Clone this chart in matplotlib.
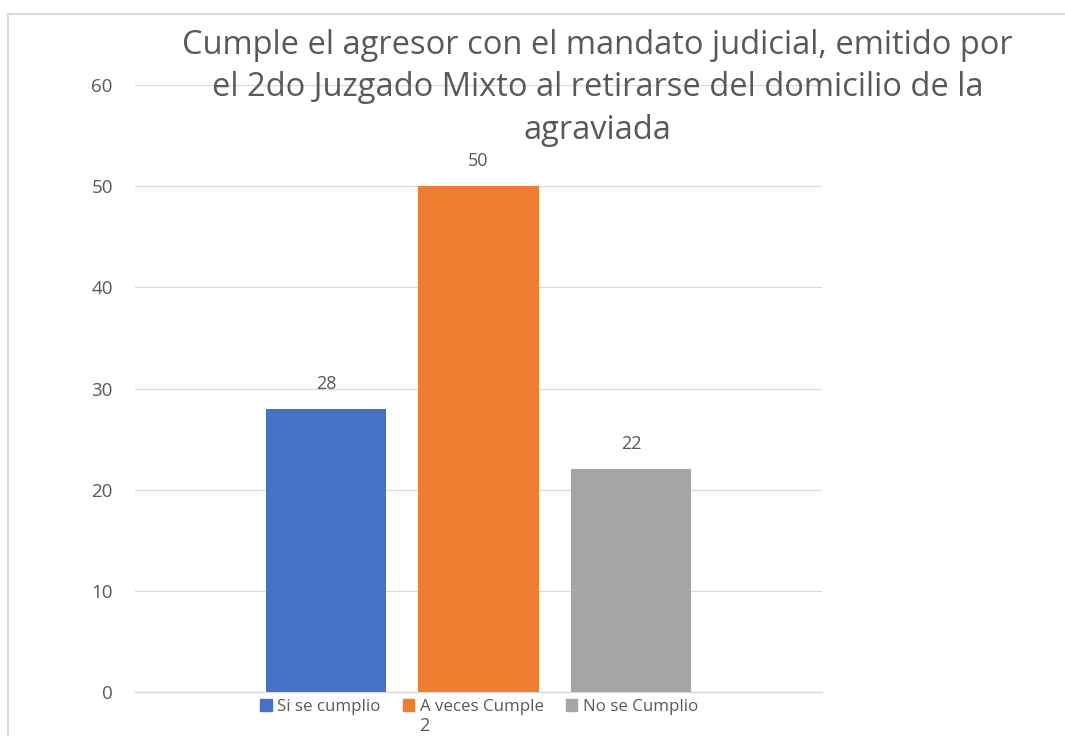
import matplotlib

matplotlib.use("Agg")
import matplotlib.pyplot as plt
from matplotlib.patches import Patch, Rectangle

plt.rcParams["font.family"] = ["Open Sans", "DejaVu Sans"]

title = ("Cumple el agresor con el mandato judicial, emitido por\n"
         "el 2do Juzgado Mixto al retirarse del domicilio de la\n"
         "agraviada")
category = "2"
series = ["Si se cumplio", "A veces Cumple", "No se Cumplio"]
values = [28, 50, 22]
colors = ["#4472C4", "#ED7D31", "#A5A5A5"]
yticks = [0, 10, 20, 30, 40, 50, 60]

text_col = "#595959"
grid_col = "#D9D9D9"

W, H = 1065, 736
fig = plt.figure(figsize=(W / 100, H / 100), dpi=100)
ax = fig.add_axes([135 / W, 1 - 692 / H, (822 - 135) / W, (692 - 85) / H])

offsets = [-0.222, 0.0, 0.222]
for off, v, c, name in zip(offsets, values, colors, series):
    ax.bar(off, v, width=0.175, color=c, label=name, zorder=3)
    ax.annotate(str(v), (off, v), xytext=(0, 18), textcoords="offset points",
                ha="center", va="center", fontsize=13, color=text_col)

ax.set_xlim(-0.5, 0.5)
ax.set_ylim(0, 60)
ax.set_yticks(yticks)
ax.set_xticks([(424 - 135) / 687 - 0.5])
ax.set_xticklabels([category])
ax.tick_params(axis="y", length=0, pad=16, labelsize=13.5, labelcolor=text_col)
ax.tick_params(axis="x", length=0, pad=18, labelsize=13, labelcolor=text_col)
ax.grid(axis="y", color=grid_col, lw=0.9, zorder=0)
for s in ["top", "right", "left"]:
    ax.spines[s].set_visible(False)
ax.spines["bottom"].set_color(grid_col)
ax.spines["bottom"].set_linewidth(1.0)

fig.text(597.5 / W, 1 - 29 / H, title, ha="center", va="top", fontsize=23.5,
         color=text_col, linespacing=1.38)

handles = [Patch(color=c) for c in colors]
fig.legend(handles, series, loc="center", bbox_to_anchor=(479 / W, 1 - 707 / H),
           ncol=3, frameon=False, fontsize=12.2, handlelength=0.7, handleheight=0.7,
           handletextpad=0.3, columnspacing=1.3, labelcolor=text_col,
           borderpad=0, borderaxespad=0)

fig.patches.append(Rectangle((8 / W, -0.05), 1.1, 1.05 - 14 / H, transform=fig.transFigure,
                             fill=False, edgecolor=grid_col, lw=1.5))

fig.savefig("out.png", dpi=100, facecolor="white")
